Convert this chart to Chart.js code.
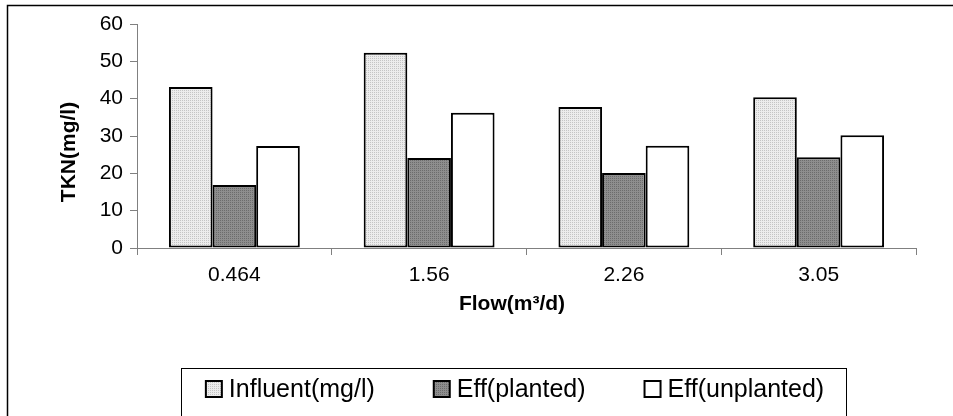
<!DOCTYPE html>
<html>
<head>
<meta charset="utf-8">
<title>TKN vs Flow</title>
<script src="https://cdn.jsdelivr.net/npm/chart.js@4"></script>
<style>
  html, body { margin: 0; padding: 0; background: #fff; }
  #wrap { width: 953px; height: 416px; }
</style>
</head>
<body>
<div id="wrap"><canvas id="myChart" width="953" height="416"></canvas></div>
<script>
// --- data ---
const flowLabels = ['0.464', '1.56', '2.26', '3.05'];
const influent = [43.1, 52.3, 37.8, 40.4];
const effPlanted = [16.9, 24.1, 20.1, 24.3];
const effUnplanted = [27.3, 36.2, 27.4, 30.2];
const seriesNames = ['Influent(mg/l)', 'Eff(planted)', 'Eff(unplanted)'];
const yTicks = [0, 10, 20, 30, 40, 50, 60];

const FONT = 'Arial, "Liberation Sans", Helvetica, sans-serif';

// small stipple patterns like the old Excel fills
function stipple(base, dot) {
    const c = document.createElement('canvas');
    c.width = 4; c.height = 4;
    const g = c.getContext('2d');
    g.fillStyle = base;
    g.fillRect(0, 0, 4, 4);
    g.fillStyle = dot;
    g.fillRect(0, 0, 1, 1);
    g.fillRect(2, 2, 1, 1);
    g.fillRect(2, 0, 1, 1);
    g.fillRect(0, 2, 1, 1);
    return g.createPattern(c, 'repeat');
}

const fills = [stipple('#ececec', '#c4c4c4'), stipple('#8e8e8e', '#6c6c6c'), '#ffffff'];

// outer frame + axis titles + boxed legend (drawn after the chart)
const decorations = {
    id: 'decorations',
    afterDraw(chart) {
        const ctx = chart.ctx;
        ctx.save();

        // outer chart frame (cropped on the right/bottom in the reference)
        ctx.strokeStyle = '#000';
        ctx.lineWidth = 1.5;
        ctx.beginPath();
        ctx.moveTo(7.5, 420);
        ctx.lineTo(7.5, 5.5);
        ctx.lineTo(960, 5.5);
        ctx.stroke();

        // y axis title
        ctx.fillStyle = '#000';
        ctx.font = 'bold 21px ' + FONT;
        ctx.textAlign = 'center';
        ctx.textBaseline = 'middle';
        ctx.translate(69, 152);
        ctx.rotate(-Math.PI / 2);
        ctx.fillText('TKN(mg/l)', 0, 0);
        ctx.setTransform(1, 0, 0, 1, 0, 0);

        // x axis title
        ctx.textBaseline = 'alphabetic';
        ctx.fillText('Flow(m\u00B3/d)', 512, 310);

        // legend
        ctx.font = '25px ' + FONT;
        const box = 16, gapText = 7, gapItem = 59;
        const ds = chart.data.datasets;
        const widths = ds.map(d => ctx.measureText(d.label).width);
        const total = widths.reduce((a, w) => a + box + gapText + w, 0) + gapItem * (ds.length - 1);
        let x = 515 - total / 2;
        const cy = 389;
        ctx.strokeStyle = '#000';
        ctx.lineWidth = 1;
        ctx.strokeRect(Math.round(x - 25) + 0.5, 368.5, Math.round(total + 47), 60);
        ctx.textAlign = 'left';
        ctx.textBaseline = 'middle';
        ds.forEach((d, i) => {
            ctx.fillStyle = d.backgroundColor;
            ctx.fillRect(x, cy - box / 2, box, box);
            ctx.lineWidth = 2;
            ctx.strokeRect(x, cy - box / 2, box, box);
            ctx.fillStyle = '#000';
            ctx.fillText(d.label, x + box + gapText, cy + 1);
            x += box + gapText + widths[i] + gapItem;
        });
        ctx.restore();
    }
};

function renderChart() {
    const ctx = document.getElementById('myChart').getContext('2d');

    const chartData = {
        labels: flowLabels,
        datasets: [influent, effPlanted, effUnplanted].map((vals, i) => ({
            label: seriesNames[i],
            data: vals,
            backgroundColor: fills[i],
            borderColor: '#000',
            borderWidth: 2,
            borderSkipped: false,
            categoryPercentage: 0.672,
            barPercentage: 1.0
        }))
    };

    new Chart(ctx, {
        type: 'bar',
        data: chartData,
        options: {
            responsive: false,
            animation: false,
            layout: { padding: { top: 24, right: 37, bottom: 0, left: 0 } },
            plugins: {
                legend: { display: false },
                tooltip: { enabled: false }
            },
            scales: {
                x: {
                    afterFit: s => { s.height = 168; },
                    grid: {
                        offset: true,
                        drawOnChartArea: false,
                        color: '#808080',
                        tickLength: 7
                    },
                    border: { color: '#808080', width: 1 },
                    ticks: {
                        color: '#000',
                        padding: 8,
                        font: { family: FONT, size: 21 }
                    }
                },
                y: {
                    min: 0,
                    max: 60,
                    afterFit: s => { s.width = 137; },
                    afterBuildTicks: s => { s.ticks = yTicks.map(v => ({ value: v })); },
                    grid: {
                        drawOnChartArea: false,
                        color: '#808080',
                        tickLength: 7
                    },
                    border: { color: '#808080', width: 1 },
                    ticks: {
                        color: '#000',
                        padding: 7,
                        font: { family: FONT, size: 21 }
                    }
                }
            }
        },
        plugins: [decorations]
    });
}

renderChart();
</script>
</body>
</html>
